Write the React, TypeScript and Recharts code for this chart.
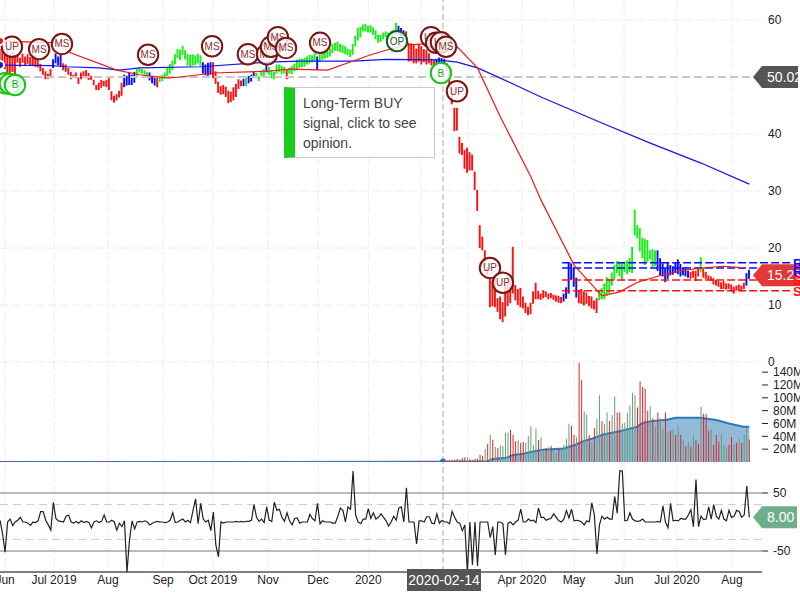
import React from 'react';
import { ComposedChart, Bar, Line, Area, Cell, XAxis, YAxis, CartesianGrid, ReferenceLine, ReferenceDot } from 'recharts';

const FONT = '"Liberation Sans", Arial, sans-serif';

// ---- data (index = trading day) ----
const priceHigh = [
  54.9,54.7,54.4,54.7,54,54.4,53.9,53.9,53.4,54.1,
  53.6,54,53.5,54.2,53.8,53,52.3,51.6,51,50.6,
  51.4,53.1,54.1,53.6,53.9,52.4,52.2,51.6,50.9,50.4,
  50.8,49.9,50.8,51,51.2,50.7,50.2,49.5,48.6,49,
  49.5,49.3,49.5,49.8,47.5,46.7,47,47.6,49,50.4,
  50.2,50.8,50.4,50.9,51.4,51.7,51.4,51.2,50.9,50.8,
  50.2,50,49.9,50.2,50.4,50.8,51.6,52.3,52.9,54,
  54.9,54.8,55.5,54.7,54,53.9,54,53.8,54.1,53.8,
  52.6,52.2,52.5,52.6,52.6,51,49.2,48.4,48.6,48.3,
  47.6,47.4,48.2,48.8,49.6,49.4,49.7,49.9,50.2,50.4,
  50.9,50.7,50.1,51.2,51.4,52.4,51.8,51.2,50.9,52.2,
  52.2,52,51.8,51.4,51.6,51.9,52.3,53,53.2,53.2,
  53.4,53.6,53.9,53.8,54.2,53.6,54,54.2,54.6,54.6,
  55,55.8,56,56.2,55.8,55.6,55.4,55,54.8,55.8,
  57.2,58.6,58.8,59.2,59.3,59,59.1,58.7,58.2,57.4,
  57.4,57.8,58,57.8,58,58.2,59.5,59,58.6,58.2,
  58,56,55.9,55.6,55,55.8,55.4,54.9,54.8,54.2,
  53.2,53,53.2,53.4,53.3,53.2,52.4,51,48,44.6,
  44.6,39.5,38.4,37.2,37.6,36.8,36.4,33.4,30.2,24,
  22,19.6,16.7,14.9,14.2,15,11.2,11.5,10.5,13.6,
  15,14,20.2,13.5,12.8,13,11.5,10.4,9.7,10.4,
  12.4,13.9,12.5,12,12.6,12.4,12,12.1,11.8,11.7,
  11.6,11.4,12,13.1,17.4,17.3,16.6,14.8,12.6,12.8,
  12.4,12.2,11.6,11.5,10.8,11.2,12.6,13,13.8,14.9,
  14.6,15.7,17,17.7,17.6,17.4,17.6,17.8,18.2,20.2,
  26.7,24,23.5,21.8,21.6,21.4,19.6,19.8,19.6,19.6,
  18.2,17.3,16.4,17.4,17,16.8,17.5,18,17.2,16.6,
  16.6,16,15.8,16,16,16.6,18.4,16.4,15.8,15.2,
  15,14.7,14.4,14.2,14,14.2,13.8,13.8,13.6,13.2,
  13.4,13.6,13.4,13.9,15.6,16.2,
];
const priceLow = [
  52.5,52.1,51.4,50.4,50.4,50.9,50.4,52.5,51.8,52.5,
  52.1,52.3,52.1,52,51.8,51.7,51,50.4,49.6,49.7,
  49.9,51.6,52.4,52.1,51.8,51.2,50.9,50.4,49.6,49.9,
  49.8,48.8,49.6,50.1,49.8,49.5,49.5,48.6,47.7,47.7,
  48.1,48.4,48.2,47.7,45.9,45.5,45.9,46.4,46.7,48.2,
  48.5,48.6,48.6,49,50.2,50.8,50.6,50.4,50,49.4,
  48.9,48.5,48.2,49.1,49.3,49.8,50,50.6,51.2,52.2,
  53.3,53,53.9,53.1,52,51.8,52,52.1,52.4,52,
  50.6,50.3,50.2,50.4,49.8,48.8,47.2,46.9,47,46.5,
  45.4,45.6,45.9,46.5,47.9,48.4,48.4,48.4,48.9,49.2,
  50,49.8,49.3,50.1,50.2,50.8,50.4,49.8,49.6,50.6,
  50.9,50.5,50.6,49.6,50.6,50.5,51,51.2,51.6,51.7,
  51.8,52.2,52.4,52.6,52.8,51.2,52.6,53,53.2,53.4,
  53.6,54.2,54.6,54.5,54.4,54.2,54,53.8,53.5,53.9,
  55.4,56.4,57,58,58,57.8,57.8,57.4,56.6,56,
  56.2,56.6,57,56.8,57,57,57.4,57.5,57.2,56.9,
  56.4,52.7,52.8,52.4,52.4,52.7,52.2,52.6,52.2,52.4,
  52,51.8,52,52.3,52.5,52.4,51,48,45.2,40.5,
  40.6,36.6,36.3,33.9,33.2,33.6,33.6,30.2,26.5,20,
  19.6,16.7,14.6,9.6,9.8,9.6,8.8,7.5,7,8,
  9.8,10.3,12,10.8,10,9.6,9.4,8.6,8.2,8.4,
  10.2,11,11,10.9,11.2,11.4,11,11.2,10.9,10.6,
  10.4,10.3,10.6,11.1,12,14.4,13.2,11.3,10.3,10.2,
  9.9,10.2,9.8,9.4,9.2,8.6,10.8,11,11,11.6,
  12,13.4,14.4,15.6,15,14.2,15.8,15.4,15.8,15.6,
  22.2,21.7,19.4,18.2,17,17.6,18,16.6,16.8,16,
  15.2,15,14,14.6,15.2,15.3,15.6,15.4,15,15.2,
  15,14.8,14.6,14.8,14.2,15,15.8,14.8,14.6,14.4,
  14.2,13.6,13.4,13.2,12.8,12.8,12.7,12.8,12.4,12,
  12.5,12.6,12.4,12.8,13.4,14.6,
];
// colour runs of the price bars: [last index of the run, colour]
const RED = '#ff0f0f', BLUE = '#0a0aff', GREEN = '#14f014';
const colourRuns: [number, string][] = [
  [20,RED],[24,BLUE],[48,RED],[53,BLUE],[58,GREEN],[61,BLUE],[62,RED],[79,GREEN],[83,BLUE],[95,RED],
  [96,BLUE],[97,GREEN],[100,BLUE],[104,GREEN],[105,BLUE],[112,GREEN],[113,RED],[124,GREEN],[125,BLUE],
  [156,GREEN],[159,BLUE],[171,RED],[175,BLUE],[221,RED],[227,BLUE],[235,RED],[258,GREEN],[271,BLUE],
  [275,RED],[276,GREEN],[293,RED],[295,BLUE],
];
const maLong: [number, number][] = [
  [0,52.1],[21,52],[26,51.8],[39,51.6],[47,51.2],[55,51.6],[79,51.8],[105,52.6],[118,52.8],[139,52.8],
  [152,53.1],[172,53],[180,52.6],[188,51.6],[197,49.8],[213,46.5],[236,42.1],[256,38.4],[276,34.9],[295,31.2],
];
const maShort: [number, number][] = [
  [0,56.3],[23,56],[28,54.2],[46,51.2],[55,50.4],[66,49.8],[71,50],[84,50.7],[105,51],[114,51.4],[129,51.2],
  [139,52.8],[146,53.9],[152,54.7],[160,55.6],[173,56],[180,55.3],[188,51.6],[197,43],[209,32.5],[213,28.4],
  [226,17],[237,11.6],[244,12.3],[251,14],[261,15.3],[269,16.1],[277,16.5],[285,16.8],[293,16.5],
];
const markerRows: [string, number, number][] = [
  ['UP',4.7,55.3],['B',2,48.9],['B',3.9,48.8],['B',5.9,48.6],['MS',15.4,54.9],['MS',24.4,55.8],['MS',58.3,53.9],
  ['MS',83.5,55.4],['MS',97.6,54],['MS',105.1,54],['MS',106.7,55.3],['MS',109.4,57],['MS',112.6,55.1],['MS',126,56],
  ['OP',156.3,56.3],['UP',169.7,57],['UP',171.7,56],['UP',173.6,56.1],['MS',175.6,55.3],['B',173.6,50.7],
  ['UP',179.9,47.5],['UP',192.9,16.5],['UP',198,13.9],
];
const levelsBlue = [17.4, 16.5];
const levelsRed = [14.4, 12.5];
const priceGrid = [0, 10, 20, 30, 40, 50, 60];
const priceTicks = [0, 10, 20, 30, 40, 60];
const levelLetters: [string, number, string][] = [['R',17.4,'#0a0aff'],['R',16.0,'#0a0aff'],['S',14.4,'#ff0f0f'],['S',12.4,'#ff0f0f']];

const volumeEarly = [
  0.6,1.1,0.7,1.4,0.8,0.5,1.2,0.6,0.9,0.5,0.7,1,0.6,0.5,0.8,1.1,0.6,0.7,0.9,0.5,
  0.8,0.6,1.3,0.7,0.5,0.9,0.6,0.8,0.5,0.7,1,0.6,0.5,0.8,0.7,0.6,1.1,0.5,0.6,0.9,
  0.7,0.5,1.2,0.8,0.6,1.5,0.9,0.6,0.7,0.5,0.8,0.6,0.5,0.7,0.9,0.6,0.5,0.6,0.8,0.7,
  0.5,0.6,0.9,0.5,0.7,0.6,1,0.5,0.6,0.8,0.7,0.5,0.6,0.9,1.2,0.8,0.6,0.5,0.7,0.6,
  0.5,0.8,0.6,0.9,1.1,0.7,0.6,0.5,0.8,0.6,0.7,0.5,0.6,0.8,0.5,0.7,0.9,0.6,0.5,0.7,
  0.6,0.8,0.5,0.6,0.7,0.9,0.5,0.6,0.8,0.5,0.7,0.6,0.9,0.5,0.6,0.7,0.8,0.5,1,0.6,
  0.7,0.5,0.6,0.8,0.9,0.6,0.5,0.7,0.6,0.8,1,0.7,0.6,0.9,0.5,0.8,0.6,0.7,1.2,0.8,
  0.6,0.7,0.9,0.6,0.5,0.8,0.7,0.6,1,0.8,0.6,0.7,0.9,1.1,0.7,0.6,0.8,1,0.7,0.9,
  1.2,0.8,1,1.3,0.9,1.1,1.4,1,1.2,1.5,1.2,1.6,1.4,1.8,1.5,2,2.4,2.8,
];
const volumeLate = [
  3.6,3.6,4.7,3.6,6.2,7.3,7.8,4.2,3.1,5.2,
  5.2,11.4,9.9,20.8,28.6,42.6,34.8,23.4,21.8,26,
  24.9,45.7,45.7,50.4,42.6,32.2,33.8,30,31.2,30,
  40.5,55.6,27,51.9,33.8,38,15.6,22,23.4,25.5,
  19.7,14.5,20.8,20.8,27,36.4,59.7,56.6,42.6,39,
  154.8,128,79,74,41.6,31,53,67.5,104,64,
  59,77,64,73,102,77,77,60,61,77,
  88,108,104,85,126,117,114,80,87,68,
  55,77,68,51,77,46,49,51,42,56,
  42,34,24,31,24,42,34,28.6,86,75,
  75,49,51,27,42,32,43,27,23,27,
  39,27,30,37,30,42,53,35,
];
const volumeLateDir =
  'rrrrrrgrrr' + 'rrrgrgrgrg' + 'gggrrrgrrg' + 'ggggrggrgr' + 'ggrggggrrg' +
  'rrggrgrggr' + 'ggrggrrggg' + 'gggrrrrrgr' + 'grggrgrgrg' + 'rgrgrgrrgr' + 'rrgrrrgggr' + 'rgrgrggr';
const volumeTicks = [20, 40, 60, 80, 100, 120, 140];
const volumeAverage: [number, number][] = [
  [0,0],[169,0.2],[191.6,0.6],[194,4.7],[199.5,6.8],[202,10.9],[206,13],[211,17],[214,19],[222,21],[226,26],
  [230,33],[233.6,37],[237.5,43],[244,48],[250.6,54.5],[253,61],[257,64],[262.5,66],[266,69],[275.6,69],
  [282,65.5],[287,60],[292.6,55],[295,55],
];

const oscillator = [
  3,-20,-52,0,5,-6,0,3,8,0,
  0,-2,-6,0,-1,2,18,18,3,-5,
  -14,34,6,2,1,0,10,12,0,-2,
  1,-2,2,-1,1,-1,-10,0,2,-1,
  1,12,0,0,3,0,-14,-2,-8,2,
  -86,-30,2,-12,0,1,0,2,0,-5,
  -2,0,1,0,0,-1,0,3,16,-1,
  0,3,5,0,3,-1,20,40,-3,32,
  5,0,3,-15,17,-40,-60,0,-2,0,
  0,0,0,1,0,1,0,1,1,3,
  30,8,1,5,-1,26,3,1,34,20,
  22,8,1,16,2,-5,6,7,-2,0,
  0,0,13,6,2,32,-3,2,0,0,
  0,-2,-2,10,24,20,0,26,22,88,
  12,0,-3,5,5,23,6,16,5,8,
  14,8,2,-7,0,10,3,24,26,0,
  59,0,0,0,-38,2,2,0,9,9,
  -2,-3,14,-2,3,0,0,-3,18,8,
  0,-2,-15,-5,-86,0,-74,0,-76,0,
  0,0,0,-27,-8,-57,0,0,-3,-57,
  -2,0,-5,0,3,22,0,0,5,2,
  3,-1,24,8,8,3,5,7,14,8,
  2,0,5,20,7,22,2,3,2,0,
  -5,2,0,33,12,-55,-5,10,5,8,
  5,5,44,15,88,88,2,3,16,5,
  2,1,2,5,0,0,0,0,0,1,
  0,28,0,-10,32,2,3,2,6,5,
  5,12,21,-8,73,-8,10,4,5,26,
  5,30,10,5,20,5,2,20,8,10,
  20,18,8,12,62,8,
];
const oscTicks = [-50, 50];

const monthGrid = [2, 21.3, 42.5, 64.2, 83.8, 105.5, 125.2, 145, 165.7, 184.3, 205.5, 226, 245.7, 266.5, 288.2];
const monthTicks: [number, string][] = [
  [2,'Jun'],[21.3,'Jul 2019'],[42.5,'Aug'],[64.2,'Sep'],[83.8,'Oct 2019'],[105.5,'Nov'],[125.2,'Dec'],[145,'2020'],
  [205.5,'Apr 2020'],[226,'May'],[245.7,'Jun'],[266.5,'Jul 2020'],[288.2,'Aug'],
];
const crossIndex = 174.4;
const crossLabel = '2020-02-14';
const lastOsc = 8;
const lastPrice = 15.23;
const targetPrice = 50.02;

// ---- rows ----
const colourAt = (k: number) => {
  for (const [last, c] of colourRuns) if (k <= last) return c;
  return RED;
};
const priceRows = priceHigh.map((h, k) => ({ i: k, range: [priceLow[k], h], colour: colourAt(k) }));
const volumeRows = [...volumeEarly, ...volumeLate].map((v, k) => {
  const late = k - volumeEarly.length;
  const up = late >= 0 ? volumeLateDir[late] === 'g' : colourAt(k) !== RED;
  return { i: k, volume: v, colour: up ? '#5f9e76' : '#e32424' };
});
const oscRows = oscillator.map((v, k) => ({ i: k, osc: v }));
const pairs = (a: [number, number][]) => a.map(([i, v]) => ({ i, v }));

const gridProps = { stroke: '#eeeeee', strokeDasharray: '9 3', strokeWidth: 1 };
const xDomain: [number, number] = [0, 300];
const axisText = { fill: '#222', fontSize: 12, fontFamily: FONT };

function Marker(props: any, text: string) {
  const { cx, cy } = props;
  const stroke = text === 'B' ? '#12c812' : text === 'OP' ? '#135a20' : '#7d1414';
  const ink = text === 'B' ? '#12b012' : text === 'OP' ? '#135a20' : '#8a3030';
  return (
    <g>
      <circle cx={cx} cy={cy} r={10.2} fill="rgba(255,255,255,0.8)" stroke={stroke} strokeWidth={2} />
      <text x={cx} y={cy + 3.5} textAnchor="middle" fontSize={10} fontFamily={FONT} fill={ink}>{text}</text>
    </g>
  );
}

function Flag(props: any, label: string, fill: string, w: number) {
  const { cx, cy } = props; // cx is the right edge of the plot
  const tip = cx - 9;
  const body = cx;
  return (
    <g>
      <polygon points={`${tip},${cy} ${body},${cy - 11} ${body + w},${cy - 11} ${body + w},${cy + 11} ${body},${cy + 11}`} fill={fill} />
      <text x={body + 5} y={cy + 5} fontSize={14} fontFamily={FONT} fill="#fff">{label}</text>
    </g>
  );
}

function Letter(props: any, t: string, c: string) {
  return <text x={793} y={props.cy + 5} fontSize={13} fontWeight="bold" fontFamily={FONT} fill={c}>{t}</text>;
}

function DateTick(props: any) {
  const { x, y, payload } = props;
  if (payload.value === crossIndex) {
    return (
      <g>
        <rect x={x - 36} y={y - 3} width={74} height={22} fill="#555" />
        <text x={x + 1} y={y + 13} textAnchor="middle" fontSize={14} fontFamily={FONT} fill="#fff">{crossLabel}</text>
      </g>
    );
  }
  const hit = monthTicks.find((m) => m[0] === payload.value);
  return <text x={x} y={y + 12} textAnchor="middle" fontSize={12} fontFamily={FONT} fill="#222">{hit ? hit[1] : ''}</text>;
}

function PricePanel() {
  return (
    <ComposedChart width={800} height={380} data={priceRows} margin={{ top: 0, right: 0, bottom: 18, left: 0 }}>
      <CartesianGrid {...gridProps} verticalValues={monthGrid} horizontalValues={priceGrid} syncWithTicks={false} />
      <XAxis dataKey="i" type="number" domain={xDomain} hide height={0} />
      <YAxis orientation="right" width={38} domain={[0, 63.51]} ticks={priceTicks} interval={0} axisLine={false} tickLine={false} tickSize={6} tickMargin={0} tick={axisText} allowDataOverflow />
      <ReferenceLine y={targetPrice} stroke="#c8c8c8" strokeWidth={2} strokeDasharray="8 4" />
      <ReferenceLine x={crossIndex} stroke="#aaa" strokeDasharray="6 3" />
      {levelsBlue.map((p) => (
        <ReferenceLine key={p} segment={[{ x: 221.3, y: p }, { x: 312, y: p }]} ifOverflow="visible" stroke="#0a0aff" strokeWidth={1.5} strokeDasharray="8 3" />
      ))}
      {levelsRed.map((p) => (
        <ReferenceLine key={p} segment={[{ x: 221.3, y: p }, { x: 312, y: p }]} ifOverflow="visible" stroke="#ff0f0f" strokeWidth={1.5} strokeDasharray="8 3" />
      ))}
      <Bar dataKey="range" barSize={1.9} isAnimationActive={false}>
        {priceRows.map((r) => <Cell key={r.i} fill={r.colour} />)}
      </Bar>
      <Line data={pairs(maLong)} dataKey="v" stroke="#1414e6" strokeWidth={1.2} dot={false} isAnimationActive={false} />
      <Line data={pairs(maShort)} dataKey="v" stroke="#f01818" strokeWidth={1.2} dot={false} isAnimationActive={false} />
      <ReferenceDot x={300} y={targetPrice} r={1} ifOverflow="visible" shape={(p: any) => Flag(p, targetPrice.toFixed(2), '#555', 36)} />
      <ReferenceDot x={300} y={lastPrice} r={1} ifOverflow="visible" shape={(p: any) => Flag(p, lastPrice.toFixed(2), '#e23838', 38)} />
      {levelLetters.map(([t, p, c], k) => (
        <ReferenceDot key={k} x={300} y={p} r={1} ifOverflow="visible" shape={(q: any) => Letter(q, t, c)} />
      ))}
      {markerRows.map(([t, i, p], k) => (
        <ReferenceDot key={k} x={i} y={p} r={10} ifOverflow="visible" shape={(q: any) => Marker(q, t)} />
      ))}
    </ComposedChart>
  );
}

function VolumePanel() {
  return (
    <ComposedChart width={800} height={100} data={volumeRows} margin={{ top: 0, right: 0, bottom: 0, left: 0 }}>
      <CartesianGrid {...gridProps} verticalValues={monthGrid} horizontalValues={[]} horizontal={false} syncWithTicks={false} />
      <XAxis dataKey="i" type="number" domain={xDomain} hide height={0} />
      <YAxis orientation="right" width={38} domain={[0, 155.8]} ticks={volumeTicks} interval={0} axisLine={false} tickSize={6} tickMargin={5} stroke="#222" tick={axisText} tickFormatter={(v: number) => `${v}M`} />
      <ReferenceLine x={crossIndex} stroke="#aaa" strokeDasharray="6 3" />
      <Bar dataKey="volume" barSize={1} isAnimationActive={false}>
        {volumeRows.map((r) => <Cell key={r.i} fill={r.colour} />)}
      </Bar>
      <Area data={pairs(volumeAverage)} dataKey="v" type="linear" stroke="#2a7ab9" strokeWidth={2} fill="#79a9cf" fillOpacity={0.8} dot={false} isAnimationActive={false} />
      <ReferenceDot x={crossIndex} y={0.8} r={3} fill="#2a7ab9" stroke="none" ifOverflow="visible" />
    </ComposedChart>
  );
}

function OscPanel() {
  return (
    <ComposedChart width={800} height={138} data={oscRows} margin={{ top: 0, right: 0, bottom: 0, left: 0 }}>
      <CartesianGrid {...gridProps} verticalValues={monthGrid} horizontal={false} syncWithTicks={false} />
      <XAxis dataKey="i" type="number" domain={xDomain} height={28} ticks={[...monthTicks.map((m) => m[0]), crossIndex]} interval={0} axisLine={{ stroke: '#000', strokeWidth: 1 }} tickLine={false} tick={DateTick} tickMargin={0} tickSize={0} />
      <YAxis orientation="right" width={38} domain={[-86.2, 103.4]} ticks={oscTicks} interval={0} axisLine={false} tickSize={6} tickMargin={5} stroke="#222" tick={axisText} />
      <ReferenceLine y={50} stroke="#bbb" strokeWidth={2} />
      <ReferenceLine y={-50} stroke="#bbb" strokeWidth={2} />
      <ReferenceLine y={30} stroke="#ccc" strokeDasharray="8 5" />
      <ReferenceLine y={-30} stroke="#ccc" strokeDasharray="8 5" />
      <ReferenceLine x={crossIndex} stroke="#aaa" strokeDasharray="6 3" />
      <Line dataKey="osc" stroke="#222" strokeWidth={1.2} dot={false} isAnimationActive={false} />
      <ReferenceDot x={300} y={lastOsc} r={1} ifOverflow="visible" shape={(p: any) => Flag(p, lastOsc.toFixed(2), '#6fae8a', 35)} />
    </ComposedChart>
  );
}

export default function App() {
  return (
    <div style={{ position: 'absolute', left: 0, top: 0, width: 800, height: 600, overflow: 'hidden', background: '#fff' }}>
      <div style={{ position: 'absolute', left: 0, top: 0 }}><PricePanel /></div>
      <div style={{ position: 'absolute', left: 0, top: 362 }}><VolumePanel /></div>
      <div style={{ position: 'absolute', left: 0, top: 462 }}><OscPanel /></div>
      <div style={{ position: 'absolute', left: 284, top: 87, width: 151, height: 71, boxSizing: 'border-box', background: '#fff', border: '1px solid #c8c8c8', borderLeft: '11px solid #1ccc1c', fontFamily: FONT, fontSize: 14, lineHeight: '20px', color: '#444', padding: '5px 4px 0 8px' }}>
        Long-Term BUY signal, click to see opinion.
      </div>
    </div>
  );
}
